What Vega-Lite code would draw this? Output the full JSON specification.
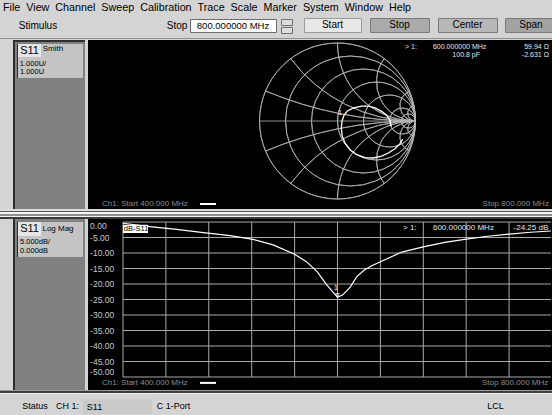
{
"$schema":"https://vega.github.io/schema/vega-lite/v6.json",
"background":"#d4d4d4",
"padding":0,
"spacing":0,
"config":{"view":{"stroke":null},"concat":{"spacing":0},"font":"Liberation Sans","text":{"font":"Liberation Sans"}},
"datasets":{
"smithGrid":[
{"grid":"r=0","cx":0,"cy":0,"rad":1,"t0":0,"t1":360},
{"grid":"r=0.2","cx":0.1667,"cy":0,"rad":0.8333,"t0":0,"t1":360},
{"grid":"r=0.5","cx":0.3333,"cy":0,"rad":0.6667,"t0":0,"t1":360},
{"grid":"r=1","cx":0.5,"cy":0,"rad":0.5,"t0":0,"t1":360},
{"grid":"r=2","cx":0.6667,"cy":0,"rad":0.3333,"t0":0,"t1":360},
{"grid":"r=5","cx":0.8333,"cy":0,"rad":0.1667,"t0":0,"t1":360},
{"grid":"r=10","cx":0.9091,"cy":0,"rad":0.0909,"t0":0,"t1":360},
{"grid":"x=0.2","cx":1,"cy":5,"rad":5,"t0":180,"t1":202.62},
{"grid":"x=0.5","cx":1,"cy":2,"rad":2,"t0":180,"t1":233.13},
{"grid":"x=1","cx":1,"cy":1,"rad":1,"t0":180,"t1":270},
{"grid":"x=2","cx":1,"cy":0.5,"rad":0.5,"t0":180,"t1":306.87},
{"grid":"x=5","cx":1,"cy":0.2,"rad":0.2,"t0":180,"t1":337.38},
{"grid":"x=10","cx":1,"cy":0.1,"rad":0.1,"t0":180,"t1":348.58},
{"grid":"x=-0.2","cx":1,"cy":-5,"rad":5,"t0":337.38,"t1":360},
{"grid":"x=-0.5","cx":1,"cy":-2,"rad":2,"t0":306.87,"t1":360},
{"grid":"x=-1","cx":1,"cy":-1,"rad":1,"t0":270,"t1":360},
{"grid":"x=-2","cx":1,"cy":-0.5,"rad":0.5,"t0":233.13,"t1":360},
{"grid":"x=-5","cx":1,"cy":-0.2,"rad":0.2,"t0":202.62,"t1":360},
{"grid":"x=-10","cx":1,"cy":-0.1,"rad":0.1,"t0":191.42,"t1":360}
],
"smithTrace":[
{"i":0,"gr":0.835,"gi":-0.235},{"i":1,"gr":0.801,"gi":-0.291},{"i":2,"gr":0.737,"gi":-0.355},{"i":3,"gr":0.652,"gi":-0.41},
{"i":4,"gr":0.566,"gi":-0.449},{"i":5,"gr":0.459,"gi":-0.474},{"i":6,"gr":0.353,"gi":-0.47},{"i":7,"gr":0.246,"gi":-0.432},
{"i":8,"gr":0.16,"gi":-0.368},{"i":9,"gr":0.096,"gi":-0.282},{"i":10,"gr":0.058,"gi":-0.184},{"i":11,"gr":0.049,"gi":-0.085},
{"i":12,"gr":0.058,"gi":0.0},{"i":13,"gr":0.083,"gi":0.073},{"i":14,"gr":0.126,"gi":0.128},{"i":15,"gr":0.203,"gi":0.167},
{"i":16,"gr":0.31,"gi":0.192},{"i":17,"gr":0.395,"gi":0.192},{"i":18,"gr":0.481,"gi":0.167},{"i":19,"gr":0.566,"gi":0.124},
{"i":20,"gr":0.63,"gi":0.073},{"i":21,"gr":0.673,"gi":0.009},{"i":22,"gr":0.69,"gi":-0.068}
],
"s11":[
{"f":400,"db":-0.4},{"f":425,"db":-1.5},{"f":450,"db":-2.4},{"f":475,"db":-3.4},{"f":500,"db":-4.4},{"f":520,"db":-5.5},
{"f":540,"db":-7.4},{"f":560,"db":-10.4},{"f":571,"db":-12.8},{"f":581,"db":-16.0},{"f":590,"db":-20.3},{"f":596,"db":-22.7},
{"f":600,"db":-24.25},{"f":605,"db":-23.5},{"f":612,"db":-20.9},{"f":618,"db":-17.6},{"f":625,"db":-15.5},{"f":632,"db":-14.1},
{"f":640,"db":-12.8},{"f":660,"db":-9.7},{"f":680,"db":-8.0},{"f":700,"db":-6.6},{"f":720,"db":-5.5},{"f":740,"db":-4.6},
{"f":760,"db":-3.9},{"f":780,"db":-3.3},{"f":799,"db":-2.9}
],
"dbTicks":[
{"db":0,"label":"0.00"},{"db":-5,"label":"-5.00"},{"db":-10,"label":"-10.00"},{"db":-15,"label":"-15.00"},{"db":-20,"label":"-20.00"},
{"db":-25,"label":"-25.00"},{"db":-30,"label":"-30.00"},{"db":-35,"label":"-35.00"},{"db":-40,"label":"-40.00"},{"db":-45,"label":"-45.00"},{"db":-50,"label":"-50.00"}
],
"freqTicks":[{"f":400},{"f":440},{"f":480},{"f":520},{"f":560},{"f":600},{"f":640},{"f":680},{"f":720},{"f":760}]
},
"vconcat":[
{"width":414,"height":16,"data":{"values":[{"t":"File\u00a0\u00a0View\u00a0\u00a0Channel\u00a0\u00a0Sweep\u00a0\u00a0Calibration\u00a0\u00a0Trace\u00a0\u00a0Scale\u00a0\u00a0Marker\u00a0\u00a0System\u00a0\u00a0Window\u00a0\u00a0Help"}]},"mark":{"type":"text","fontSize":10.75,"color":"#000000"},"encoding":{"text":{"field":"t","type":"nominal"}}},
{"hconcat":[
 {"width":17,"height":21,"data":{"values":[]},"mark":"rect"},
 {"width":42,"height":19,"data":{"values":[{"t":"Stimulus"}]},"mark":{"type":"text","fontSize":10,"color":"#000000"},"encoding":{"text":{"field":"t","type":"nominal"}}},
 {"width":106,"height":1,"data":{"values":[]},"mark":"rect"},
 {"width":24,"height":19,"data":{"values":[{"t":"Stop"}]},"mark":{"type":"text","fontSize":10,"color":"#000000"},"encoding":{"text":{"field":"t","type":"nominal"}}},
 {"vconcat":[
  {"width":86,"height":2,"data":{"values":[]},"mark":"rect"},
  {"width":86,"height":13,"view":{"fill":"#ffffff","stroke":"#6e6e6e"},"data":{"values":[{"t":"800.000000 MHz"}]},"mark":{"type":"text","fontSize":9.5,"color":"#000000"},"encoding":{"text":{"field":"t","type":"nominal"}}}
 ]},
 {"width":3,"height":1,"data":{"values":[]},"mark":"rect"},
 {"vconcat":[
  {"width":11,"height":2,"data":{"values":[]},"mark":"rect"},
  {"width":11,"height":6,"view":{"fill":"#dcdcdc","stroke":"#6e6e6e"},"data":{"values":[]},"mark":"rect"},
  {"width":11,"height":6,"view":{"fill":"#dcdcdc","stroke":"#6e6e6e"},"data":{"values":[]},"mark":"rect"}
 ]},
 {"width":10,"height":1,"data":{"values":[]},"mark":"rect"},
 {"vconcat":[
  {"width":57,"height":1,"data":{"values":[]},"mark":"rect"},
  {"width":57,"height":14,"view":{"fill":"#e8e8e8","stroke":"#9a9a9a"},"data":{"values":[{"t":"Start"}]},"mark":{"type":"text","fontSize":10,"color":"#000000"},"encoding":{"text":{"field":"t","type":"nominal"}}}
 ]},
 {"width":7,"height":1,"data":{"values":[]},"mark":"rect"},
 {"vconcat":[
  {"width":59,"height":1,"data":{"values":[]},"mark":"rect"},
  {"width":59,"height":14,"view":{"fill":"#ababab","stroke":"#7a7a7a"},"data":{"values":[{"t":"Stop"}]},"mark":{"type":"text","fontSize":10,"color":"#000000"},"encoding":{"text":{"field":"t","type":"nominal"}}}
 ]},
 {"width":7,"height":1,"data":{"values":[]},"mark":"rect"},
 {"vconcat":[
  {"width":59,"height":1,"data":{"values":[]},"mark":"rect"},
  {"width":59,"height":14,"view":{"fill":"#b8b8b8","stroke":"#7a7a7a"},"data":{"values":[{"t":"Center"}]},"mark":{"type":"text","fontSize":10,"color":"#000000"},"encoding":{"text":{"field":"t","type":"nominal"}}}
 ]},
 {"width":6,"height":1,"data":{"values":[]},"mark":"rect"},
 {"vconcat":[
  {"width":52,"height":1,"data":{"values":[]},"mark":"rect"},
  {"width":52,"height":14,"view":{"fill":"#a3a3a3","stroke":"#7a7a7a"},"data":{"values":[{"t":"Span"}]},"mark":{"type":"text","fontSize":10,"color":"#000000"},"encoding":{"text":{"field":"t","type":"nominal"}}}
 ]}
]},
{"vconcat":[
 {"width":552,"height":1,"data":{"values":[]},"mark":"rect"},
 {"width":552,"height":1,"view":{"fill":"#909090"},"data":{"values":[]},"mark":"rect"},
 {"width":552,"height":1,"data":{"values":[]},"mark":"rect"}
]},
{"hconcat":[
 {"hconcat":[
  {"width":13,"height":169,"view":{"fill":"#d4d4d4"},"data":{"values":[]},"mark":"rect"},
  {"width":2,"height":169,"view":{"fill":"#2e2e2e"},"data":{"values":[]},"mark":"rect"},
  {"vconcat":[
   {"width":70,"height":2,"view":{"fill":"#2e2e2e"},"data":{"values":[]},"mark":"rect"},
   {"width":70,"height":2,"view":{"fill":"#808080"},"data":{"values":[]},"mark":"rect"},
   {"hconcat":[
    {"width":2,"height":34,"view":{"fill":"#808080"},"data":{"values":[]},"mark":"rect"},
    {"width":1,"height":34,"view":{"fill":"#2e2e2e"},"data":{"values":[]},"mark":"rect"},
    {"vconcat":[
     {"hconcat":[
      {"width":23,"height":13,"view":{"fill":"#e6e6e6"},"data":{"values":[{"t":"S11"}]},"mark":{"type":"text","fontSize":11,"color":"#000000"},"encoding":{"text":{"field":"t","type":"nominal"}}},
      {"vconcat":[
       {"width":24,"height":9,"view":{"fill":"#c4c4c4"},"data":{"values":[{"t":"Smith"}]},"mark":{"type":"text","fontSize":8,"color":"#000000"},"encoding":{"text":{"field":"t","type":"nominal"}}},
       {"width":24,"height":4,"view":{"fill":"#c4c4c4"},"data":{"values":[]},"mark":"rect"}
      ]},
      {"width":18,"height":13,"view":{"fill":"#c4c4c4"},"data":{"values":[]},"mark":"rect"}
     ]},
     {"width":65,"height":3,"view":{"fill":"#c4c4c4"},"data":{"values":[]},"mark":"rect"},
     {"hconcat":[
      {"width":30,"height":8,"view":{"fill":"#c4c4c4"},"data":{"values":[{"t":"1.000U/"}]},"mark":{"type":"text","fontSize":7.5,"color":"#000000"},"encoding":{"text":{"field":"t","type":"nominal"}}},
      {"width":35,"height":8,"view":{"fill":"#c4c4c4"},"data":{"values":[]},"mark":"rect"}
     ]},
     {"hconcat":[
      {"width":28,"height":8,"view":{"fill":"#c4c4c4"},"data":{"values":[{"t":"1.000U"}]},"mark":{"type":"text","fontSize":7.5,"color":"#000000"},"encoding":{"text":{"field":"t","type":"nominal"}}},
      {"width":37,"height":8,"view":{"fill":"#c4c4c4"},"data":{"values":[]},"mark":"rect"}
     ]},
     {"width":65,"height":2,"view":{"fill":"#c4c4c4"},"data":{"values":[]},"mark":"rect"}
    ]},
    {"width":2,"height":34,"view":{"fill":"#808080"},"data":{"values":[]},"mark":"rect"}
   ]},
   {"width":70,"height":131,"view":{"fill":"#808080"},"data":{"values":[]},"mark":"rect"}
  ]},
  {"width":3,"height":169,"view":{"fill":"#d4d4d4"},"data":{"values":[]},"mark":"rect"}
 ]},
 {"width":464,"height":169,"view":{"fill":"#000000"},
  "layer":[
   {"data":{"name":"smithGrid"},"mark":{"type":"arc","filled":false,"stroke":"#b4b4b4","strokeWidth":0.8},
    "encoding":{
     "x":{"field":"cx","type":"quantitative","scale":{"domain":[-3.199,2.75],"nice":false,"zero":false},"axis":null},
     "y":{"field":"cy","type":"quantitative","scale":{"domain":[-1.128,1.0385],"nice":false,"zero":false},"axis":null},
     "radius":{"field":"rad","type":"quantitative","scale":{"type":"linear","domain":[0,1],"range":[0,78],"zero":true,"nice":false}},
     "radius2":{"field":"rad"},
     "theta":{"field":"t0","type":"quantitative","scale":{"domain":[0,360],"range":[0,6.283185307179586]},"stack":null},
     "theta2":{"field":"t1"}
    }},
   {"data":{"values":[{}]},"mark":{"type":"rule","stroke":"#b4b4b4","strokeWidth":0.8},
    "encoding":{"x":{"datum":-1,"type":"quantitative","scale":{"domain":[-3.199,2.75],"nice":false,"zero":false},"axis":null},"x2":{"datum":1},
     "y":{"datum":0,"type":"quantitative","scale":{"domain":[-1.128,1.0385],"nice":false,"zero":false},"axis":null}}},
   {"data":{"name":"smithTrace"},"mark":{"type":"line","color":"#ffffff","strokeWidth":1.3},
    "encoding":{"x":{"field":"gr","type":"quantitative","scale":{"domain":[-3.199,2.75],"nice":false,"zero":false},"axis":null},
     "y":{"field":"gi","type":"quantitative","scale":{"domain":[-1.128,1.0385],"nice":false,"zero":false},"axis":null},
     "order":{"field":"i","type":"quantitative"}}},
   {"data":{"values":[{"t":"1"}]},"mark":{"type":"text","fontSize":7,"color":"#ffffff"},
    "encoding":{"text":{"field":"t","type":"nominal"},"x":{"datum":0.03,"type":"quantitative","axis":null},"y":{"datum":0.1,"type":"quantitative","axis":null}}},
   {"data":{"values":[{"t":"> 1:"}]},"mark":{"type":"text","fontSize":7,"align":"left","color":"#e6e6e6"},
    "encoding":{"text":{"field":"t","type":"nominal"},"x":{"datum":0.865,"type":"quantitative","axis":null},"y":{"datum":0.949,"type":"quantitative","axis":null}}},
   {"data":{"values":[{"t":"600.000000 MHz"}]},"mark":{"type":"text","fontSize":7,"align":"left","color":"#e6e6e6"},
    "encoding":{"text":{"field":"t","type":"nominal"},"x":{"datum":1.224,"type":"quantitative","axis":null},"y":{"datum":0.949,"type":"quantitative","axis":null}}},
   {"data":{"values":[{"t":"59.94 Ω"}]},"mark":{"type":"text","fontSize":7,"align":"right","color":"#e6e6e6"},
    "encoding":{"text":{"field":"t","type":"nominal"},"x":{"datum":2.71,"type":"quantitative","axis":null},"y":{"datum":0.949,"type":"quantitative","axis":null}}},
   {"data":{"values":[{"t":"100.8 pF"}]},"mark":{"type":"text","fontSize":7,"align":"right","color":"#e6e6e6"},
    "encoding":{"text":{"field":"t","type":"nominal"},"x":{"datum":1.827,"type":"quantitative","axis":null},"y":{"datum":0.846,"type":"quantitative","axis":null}}},
   {"data":{"values":[{"t":"-2.631 Ω"}]},"mark":{"type":"text","fontSize":7,"align":"right","color":"#e6e6e6"},
    "encoding":{"text":{"field":"t","type":"nominal"},"x":{"datum":2.71,"type":"quantitative","axis":null},"y":{"datum":0.846,"type":"quantitative","axis":null}}},
   {"data":{"values":[{"t":"Ch1: Start  400.000 MHz"}]},"mark":{"type":"text","fontSize":8,"align":"left","color":"#8c8c8c"},
    "encoding":{"text":{"field":"t","type":"nominal"},"x":{"datum":-3.019,"type":"quantitative","axis":null},"y":{"datum":-1.064,"type":"quantitative","axis":null}}},
   {"data":{"values":[{}]},"mark":{"type":"rule","stroke":"#ffffff","strokeWidth":2},
    "encoding":{"x":{"datum":-1.763,"type":"quantitative","axis":null},"x2":{"datum":-1.558},"y":{"datum":-1.064,"type":"quantitative","axis":null}}},
   {"data":{"values":[{"t":"Stop  800.000 MHz"}]},"mark":{"type":"text","fontSize":8,"align":"right","color":"#8c8c8c"},
    "encoding":{"text":{"field":"t","type":"nominal"},"x":{"datum":2.71,"type":"quantitative","axis":null},"y":{"datum":-1.064,"type":"quantitative","axis":null}}}
  ]}
]},
{"vconcat":[
 {"width":552,"height":2,"view":{"fill":"#dcdcdc"},"data":{"values":[]},"mark":"rect"},
 {"width":552,"height":1,"view":{"fill":"#5a5a5a"},"data":{"values":[]},"mark":"rect"},
 {"width":552,"height":2,"view":{"fill":"#f4f4f4"},"data":{"values":[]},"mark":"rect"},
 {"width":552,"height":2,"view":{"fill":"#8e8e8e"},"data":{"values":[]},"mark":"rect"},
 {"width":552,"height":1,"view":{"fill":"#f4f4f4"},"data":{"values":[]},"mark":"rect"},
 {"width":552,"height":2,"view":{"fill":"#3a3a3a"},"data":{"values":[]},"mark":"rect"}
]},
{"hconcat":[
 {"hconcat":[
  {"width":13,"height":171,"view":{"fill":"#d4d4d4"},"data":{"values":[]},"mark":"rect"},
  {"width":2,"height":171,"view":{"fill":"#2e2e2e"},"data":{"values":[]},"mark":"rect"},
  {"vconcat":[
   {"width":70,"height":3,"view":{"fill":"#808080"},"data":{"values":[]},"mark":"rect"},
   {"hconcat":[
    {"width":2,"height":35,"view":{"fill":"#808080"},"data":{"values":[]},"mark":"rect"},
    {"width":1,"height":35,"view":{"fill":"#2e2e2e"},"data":{"values":[]},"mark":"rect"},
    {"vconcat":[
     {"hconcat":[
      {"width":23,"height":14,"view":{"fill":"#e6e6e6"},"data":{"values":[{"t":"S11"}]},"mark":{"type":"text","fontSize":11,"color":"#000000"},"encoding":{"text":{"field":"t","type":"nominal"}}},
      {"width":34,"height":14,"view":{"fill":"#c4c4c4"},"data":{"values":[{"t":"Log Mag"}]},"mark":{"type":"text","fontSize":8,"color":"#000000"},"encoding":{"text":{"field":"t","type":"nominal"}}},
      {"width":8,"height":14,"view":{"fill":"#c4c4c4"},"data":{"values":[]},"mark":"rect"}
     ]},
     {"width":65,"height":2,"view":{"fill":"#c4c4c4"},"data":{"values":[]},"mark":"rect"},
     {"hconcat":[
      {"width":34,"height":8,"view":{"fill":"#c4c4c4"},"data":{"values":[{"t":"5.000dB/"}]},"mark":{"type":"text","fontSize":7.5,"color":"#000000"},"encoding":{"text":{"field":"t","type":"nominal"}}},
      {"width":31,"height":8,"view":{"fill":"#c4c4c4"},"data":{"values":[]},"mark":"rect"}
     ]},
     {"width":65,"height":1,"view":{"fill":"#c4c4c4"},"data":{"values":[]},"mark":"rect"},
     {"hconcat":[
      {"width":32,"height":8,"view":{"fill":"#c4c4c4"},"data":{"values":[{"t":"0.000dB"}]},"mark":{"type":"text","fontSize":7.5,"color":"#000000"},"encoding":{"text":{"field":"t","type":"nominal"}}},
      {"width":33,"height":8,"view":{"fill":"#c4c4c4"},"data":{"values":[]},"mark":"rect"}
     ]},
     {"width":65,"height":2,"view":{"fill":"#c4c4c4"},"data":{"values":[]},"mark":"rect"}
    ]},
    {"width":2,"height":35,"view":{"fill":"#808080"},"data":{"values":[]},"mark":"rect"}
   ]},
   {"width":70,"height":133,"view":{"fill":"#808080"},"data":{"values":[]},"mark":"rect"}
  ]},
  {"width":3,"height":171,"view":{"fill":"#d4d4d4"},"data":{"values":[]},"mark":"rect"}
 ]},
 {"width":464,"height":171,"view":{"fill":"#000000"},
  "layer":[
   {"data":{"name":"dbTicks"},"mark":{"type":"rule","stroke":"#a9a9a9","strokeWidth":1},
    "encoding":{"y":{"field":"db","type":"quantitative","scale":{"domain":[-54.19,0.968],"nice":false,"zero":false},"axis":null},
     "x":{"datum":400,"type":"quantitative","scale":{"domain":[367.37,800],"nice":false,"zero":false},"axis":null},"x2":{"datum":799}}},
   {"data":{"name":"freqTicks"},"mark":{"type":"rule","stroke":"#a9a9a9","strokeWidth":1},
    "encoding":{"x":{"field":"f","type":"quantitative","axis":null},"y":{"datum":0,"type":"quantitative","axis":null},"y2":{"datum":-50}}},
   {"data":{"name":"s11"},"mark":{"type":"line","color":"#ffffff","strokeWidth":1.2},
    "encoding":{"x":{"field":"f","type":"quantitative","axis":null},"y":{"field":"db","type":"quantitative","axis":null}}},
   {"data":{"values":[{}]},"mark":{"type":"rect","fill":"#ffffff"},
    "encoding":{"x":{"datum":400,"type":"quantitative","axis":null},"x2":{"datum":423.3},"y":{"datum":-0.9,"type":"quantitative","axis":null},"y2":{"datum":-3.55}}},
   {"data":{"values":[{"t":"dB-S11"}]},"mark":{"type":"text","fontSize":7.5,"align":"left","color":"#000000"},
    "encoding":{"text":{"field":"t","type":"nominal"},"x":{"datum":400.8,"type":"quantitative","axis":null},"y":{"datum":-2.25,"type":"quantitative","axis":null}}},
   {"data":{"name":"dbTicks"},"transform":[{"filter":"datum.db < 0 && datum.db > -50"}],"mark":{"type":"text","fontSize":8.5,"align":"left","baseline":"middle","color":"#c8c8c8"},
    "encoding":{"text":{"field":"label","type":"nominal"},"x":{"datum":369.3,"type":"quantitative","axis":null},"y":{"field":"db","type":"quantitative","axis":null}}},
   {"data":{"name":"dbTicks"},"transform":[{"filter":"datum.db == 0"}],"mark":{"type":"text","fontSize":8.5,"align":"left","baseline":"top","color":"#c8c8c8"},
    "encoding":{"text":{"field":"label","type":"nominal"},"x":{"datum":369.3,"type":"quantitative","axis":null},"y":{"field":"db","type":"quantitative","axis":null}}},
   {"data":{"name":"dbTicks"},"transform":[{"filter":"datum.db == -50"}],"mark":{"type":"text","fontSize":8.5,"align":"left","baseline":"bottom","color":"#c8c8c8"},
    "encoding":{"text":{"field":"label","type":"nominal"},"x":{"datum":369.3,"type":"quantitative","axis":null},"y":{"field":"db","type":"quantitative","axis":null}}},
   {"data":{"values":[{"t":"1"}]},"mark":{"type":"text","fontSize":7,"color":"#ffffff"},
    "encoding":{"text":{"field":"t","type":"nominal"},"x":{"datum":598.6,"type":"quantitative","axis":null},"y":{"datum":-21.3,"type":"quantitative","axis":null}}},
   {"data":{"values":[{}]},"mark":{"type":"point","shape":"triangle-down","filled":false,"size":14,"color":"#ffffff","strokeWidth":1},
    "encoding":{"x":{"datum":600,"type":"quantitative","axis":null},"y":{"datum":-23.6,"type":"quantitative","axis":null}}},
   {"data":{"values":[{"t":"> 1:"}]},"mark":{"type":"text","fontSize":8,"align":"left","color":"#e6e6e6"},
    "encoding":{"text":{"field":"t","type":"nominal"},"x":{"datum":661.1,"type":"quantitative","axis":null},"y":{"datum":-1.94,"type":"quantitative","axis":null}}},
   {"data":{"values":[{"t":"600.000000 MHz"}]},"mark":{"type":"text","fontSize":8,"align":"left","color":"#e6e6e6"},
    "encoding":{"text":{"field":"t","type":"nominal"},"x":{"datum":689.0,"type":"quantitative","axis":null},"y":{"datum":-1.94,"type":"quantitative","axis":null}}},
   {"data":{"values":[{"t":"-24.25 dB"}]},"mark":{"type":"text","fontSize":8,"align":"right","color":"#e6e6e6"},
    "encoding":{"text":{"field":"t","type":"nominal"},"x":{"datum":796.5,"type":"quantitative","axis":null},"y":{"datum":-1.94,"type":"quantitative","axis":null}}},
   {"data":{"values":[{"t":"Ch1: Start  400.000 MHz"}]},"mark":{"type":"text","fontSize":8,"align":"left","color":"#8c8c8c"},
    "encoding":{"text":{"field":"t","type":"nominal"},"x":{"datum":380.4,"type":"quantitative","axis":null},"y":{"datum":-51.9,"type":"quantitative","axis":null}}},
   {"data":{"values":[{}]},"mark":{"type":"rule","stroke":"#ffffff","strokeWidth":2},
    "encoding":{"x":{"datum":471.8,"type":"quantitative","axis":null},"x2":{"datum":486.7},"y":{"datum":-51.9,"type":"quantitative","axis":null}}},
   {"data":{"values":[{"t":"Stop  800.000 MHz"}]},"mark":{"type":"text","fontSize":8,"align":"right","color":"#8c8c8c"},
    "encoding":{"text":{"field":"t","type":"nominal"},"x":{"datum":796.5,"type":"quantitative","axis":null},"y":{"datum":-51.9,"type":"quantitative","axis":null}}}
  ]}
]},
{"vconcat":[
 {"width":552,"height":1,"view":{"fill":"#9a9a9a"},"data":{"values":[]},"mark":"rect"},
 {"width":552,"height":2,"view":{"fill":"#3c3c3c"},"data":{"values":[]},"mark":"rect"},
 {"width":552,"height":1,"view":{"fill":"#f0f0f0"},"data":{"values":[]},"mark":"rect"},
 {"width":552,"height":3,"data":{"values":[]},"mark":"rect"}
]},
{"hconcat":[
 {"width":20,"height":18,"data":{"values":[]},"mark":"rect"},
 {"width":30,"height":18,"data":{"values":[{"t":"Status"}]},"mark":{"type":"text","fontSize":9,"color":"#000000"},"encoding":{"text":{"field":"t","type":"nominal"}}},
 {"width":4,"height":1,"data":{"values":[]},"mark":"rect"},
 {"width":27,"height":18,"data":{"values":[{"t":"CH 1:"}]},"mark":{"type":"text","fontSize":9,"color":"#000000"},"encoding":{"text":{"field":"t","type":"nominal"}}},
 {"width":2,"height":1,"data":{"values":[]},"mark":"rect"},
 {"vconcat":[
  {"width":69,"height":2,"data":{"values":[]},"mark":"rect"},
  {"hconcat":[
   {"width":2,"height":15,"view":{"fill":"#cacaca"},"data":{"values":[]},"mark":"rect"},
   {"width":19,"height":15,"view":{"fill":"#cacaca"},"data":{"values":[{"t":"S11"}]},"mark":{"type":"text","fontSize":9,"color":"#000000"},"encoding":{"text":{"field":"t","type":"nominal"}}},
   {"width":48,"height":15,"view":{"fill":"#cacaca"},"data":{"values":[]},"mark":"rect"}
  ]}
 ]},
 {"width":2,"height":1,"data":{"values":[]},"mark":"rect"},
 {"width":39,"height":18,"data":{"values":[{"t":"C  1-Port"}]},"mark":{"type":"text","fontSize":9,"color":"#000000"},"encoding":{"text":{"field":"t","type":"nominal"}}},
 {"width":292,"height":1,"data":{"values":[]},"mark":"rect"},
 {"width":21,"height":18,"data":{"values":[{"t":"LCL"}]},"mark":{"type":"text","fontSize":9,"color":"#000000"},"encoding":{"text":{"field":"t","type":"nominal"}}}
]}
]
}
